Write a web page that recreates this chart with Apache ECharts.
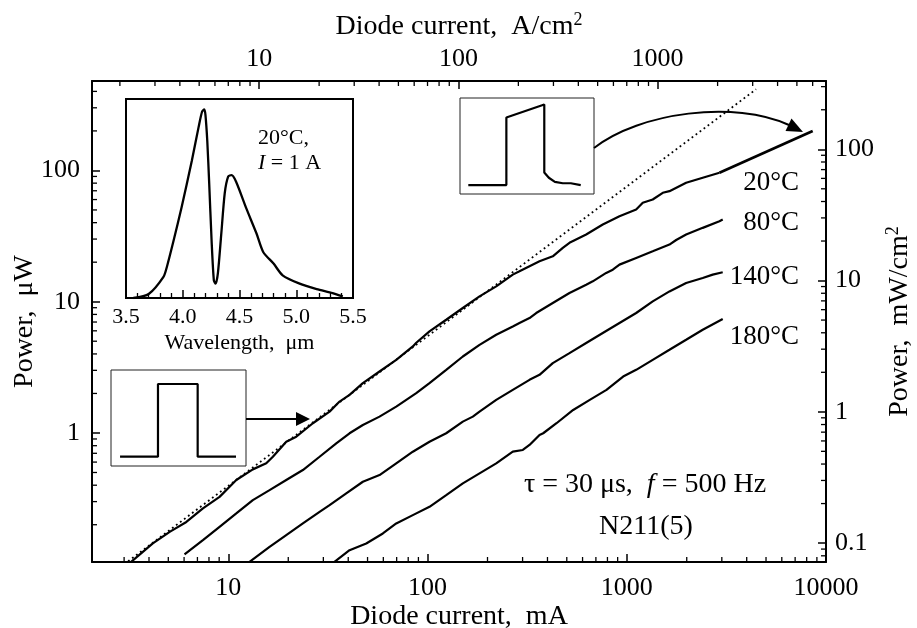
<!DOCTYPE html>
<html>
<head>
<meta charset="utf-8">
<script src="https://cdn.jsdelivr.net/npm/echarts@6/dist/echarts.min.js"></script>
<style>
html,body{margin:0;padding:0;background:#fff;}
#chart{width:917px;height:628px;}
</style>
</head>
<body>
<div id="chart"></div>
<script>
// ---------------- data ----------------
const currentT20 = [3.20,4.18,5.08,6.16,7.46,9.04,10.97,13.28,15.51,16.74,19.54,21.94,26.58,32.24,36.18,40.61,47.36,57.42,69.66,84.38,87.8,102.3,124.1,150.4,182.4,221.2,267.9,289.4,325,364.8,425.3,477.5,515.8,625.6,757.9,919.2,1115,1203,1350,1516,1638,1986,2406,2918];
const powerT20   = [0.102,0.144,0.1765,0.210,0.266,0.326,0.438,0.528,0.587,0.659,0.858,0.937,1.186,1.454,1.734,1.95,2.395,2.938,3.607,4.560,4.864,5.936,7.288,8.953,10.98,13.08,16.08,17.04,18.62,20.30,22.17,25.70,28.07,32.47,38.70,44.77,50.38,56.65,60.04,67.54,69.5,80.58,88.0,96.0];
const currentT20ext = [2918, 8577];
const powerT20ext   = [96.0, 199.5];

const currentT80 = [6.03,7.46,9.04,10.97,13.28,16.11,19.54,23.68,28.72,34.83,40.61,47.36,57.42,69.66,87.8,102.3,124.1,150.4,182.4,221.2,267.9,289.4,325,351.1,425.3,515.8,625.6,675.3,788.4,850.9,919.2,1115,1350,1638,1770,1986,2406,2918,3031];
const powerT80   = [0.119,0.1525,0.1927,0.2438,0.308,0.367,0.438,0.522,0.659,0.834,0.995,1.151,1.332,1.588,2.009,2.395,3.027,3.825,4.693,5.597,6.478,6.878,7.508,8.20,9.77,11.65,13.48,14.29,16.56,17.54,19.16,21.56,24.21,27.23,29.5,32.47,36.52,41.02,42.27];

const currentT140 = [12.54,16.11,19.54,23.68,28.72,32.24,39.09,47.36,57.42,69.66,84.38,102.3,124.1,150.4,168.8,182.4,221.2,267.9,325,364.8,425.3,515.8,625.6,757.9,919.2,1115,1350,1638,1986,2406,2701,3031];
const powerT140   = [0.102,0.1355,0.1665,0.2045,0.2508,0.282,0.3465,0.4249,0.478,0.587,0.720,0.858,0.995,1.220,1.332,1.454,1.786,2.129,2.540,2.773,3.404,4.058,4.84,5.77,6.878,8.20,10.05,11.98,13.89,15.17,16.08,16.75];

const currentT180 = [33.49,40.61,49.25,59.68,69.66,84.38,102.3,124.1,150.4,182.4,221.2,267.9,300.8,325,364.8,380.7,444,538.4,652.2,791.1,959,1115,1350,1638,1986,2406,3031];
const powerT180   = [0.102,0.128,0.144,0.1715,0.2045,0.2366,0.2738,0.3363,0.413,0.4925,0.587,0.720,0.742,0.810,0.965,0.995,1.186,1.497,1.786,2.129,2.69,3.027,3.607,4.30,5.129,6.114,7.38];

const currentFit = [3.0, 4459];
const powerFit   = [0.1, 415];

const wavelength = [3.565,3.70,3.83,3.86,3.92,3.99,4.08,4.14,4.17,4.19,4.20,4.216,4.233,4.254,4.274,4.29,4.31,4.34,4.37,4.40,4.43,4.47,4.56,4.65,4.71,4.80,4.88,5.03,5.18,5.32,5.41];
const intensity  = [0,0.02,0.106,0.156,0.29,0.456,0.69,0.86,0.936,0.948,0.92,0.79,0.577,0.29,0.089,0.072,0.126,0.326,0.527,0.61,0.617,0.584,0.45,0.324,0.23,0.173,0.114,0.072,0.045,0.025,0.008];

const pulse1T = [0.067,0.348,0.348,0.642,0.642,0.926];
const pulse1V = [0.097,0.097,0.854,0.854,0.097,0.097];
const pulse2T = [0.062,0.346,0.346,0.629,0.629,0.663,0.708,0.767,0.827,0.901];
const pulse2V = [0.093,0.093,0.797,0.932,0.224,0.169,0.127,0.112,0.112,0.093];

// axis ticks
const majorMA    = [10,100,1000,10000];
const majorAcm2  = [10,100,1000];
const majorUW    = [1,10,100];
const majorMWcm2 = [0.1,1,10,100];
const minorMA    = [3,4,5,6,7,8,9,20,30,40,50,60,70,80,90,200,300,400,500,600,700,800,900,2000,3000,4000,5000,6000,7000,8000,9000];
const minorAcm2  = [2,3,4,5,6,7,8,9,20,30,40,50,60,70,80,90,200,300,400,500,600,700,800,900,2000,3000,4000,5000,6000];
const minorUW    = [0.2,0.3,0.4,0.5,0.6,0.7,0.8,0.9,2,3,4,5,6,7,8,9,20,30,40,50,60,70,80,90,200,300,400];
const minorMWcm2 = [0.08,0.09,0.2,0.3,0.4,0.5,0.6,0.7,0.8,0.9,2,3,4,5,6,7,8,9,20,30,40,50,60,70,80,90,200,300];
const wavelengthTicks = ['3.5','4.0','4.5','5.0','5.5'];

// axis ranges
const xMinMA = 2.07, xMaxMA = 10000;
const yMinUW = 0.104, yMaxUW = 480;
const areaCurrent = 0.7;   // mA -> A/cm^2
const areaPower = 0.69;    // uW -> mW/cm^2

// ---------------- chart ----------------
const FF = '"Liberation Serif", "Times New Roman", serif';
const chart = echarts.init(document.getElementById('chart'), null, {renderer: 'canvas'});

function zip(a, b) { return a.map((v, i) => [v, b[i]]); }
function labelFrom(list) {
  return function (v) {
    for (const t of list) { if (Math.abs(v - t) / t < 1e-6) return String(t); }
    return '';
  };
}
const tickTxt = {color: '#000', fontFamily: FF, fontSize: 26};
const nameTxt = {color: '#000', fontFamily: FF, fontSize: 28};
const supRich = {s: {fontSize: 18, fontFamily: FF, color: '#000', verticalAlign: 'top', lineHeight: 32}};
const axLine = {show: true, lineStyle: {color: '#000', width: 2}};
const majTick = {show: true, inside: true, length: 8, lineStyle: {color: '#000', width: 1.5}};

function tickSeries(xi, yi, pts, dx, dy) {
  return {
    type: 'custom', xAxisIndex: xi, yAxisIndex: yi, silent: true, clip: false, z: 6,
    encode: {x: 0, y: 1},
    data: pts,
    renderItem: function (params, api) {
      const p = api.coord([api.value(0), api.value(1)]);
      return {type: 'line', shape: {x1: p[0], y1: p[1], x2: p[0] + dx, y2: p[1] + dy},
              style: {stroke: '#000', lineWidth: 1.3}};
    }
  };
}
function curve(name, xs, ys, w) {
  return {type: 'line', name: name, xAxisIndex: 0, yAxisIndex: 0, data: zip(xs, ys),
          showSymbol: false, symbol: 'none', lineStyle: {color: '#000', width: w || 2.2}, z: 3};
}
function label(x, y, text, size, align, rich) {
  const st = {text: text, fill: '#000', font: size + 'px ' + FF, align: align, verticalAlign: 'middle'};
  if (rich) st.rich = rich;
  return {type: 'text', x: x, y: y, style: st, z: 10};
}
const gridBase = {containLabel: false, outerBoundsMode: 'none'};

const option = {
  backgroundColor: '#fff',
  animation: false,
  grid: [
    Object.assign({left: 92, top: 81, width: 734, height: 481}, gridBase),
    Object.assign({left: 126, top: 99, width: 227, height: 199, show: true, borderColor: '#000', borderWidth: 2, backgroundColor: '#fff'}, gridBase),
    Object.assign({left: 111, top: 370, width: 135, height: 96, show: true, borderColor: '#222', borderWidth: 1, backgroundColor: '#fff'}, gridBase),
    Object.assign({left: 460, top: 98, width: 134, height: 96, show: true, borderColor: '#222', borderWidth: 1, backgroundColor: '#fff'}, gridBase)
  ],
  xAxis: [
    {type: 'log', gridIndex: 0, position: 'bottom', min: xMinMA, max: xMaxMA,
     axisLine: axLine, axisTick: majTick, splitLine: {show: false},
     axisLabel: Object.assign({margin: 13, formatter: labelFrom(majorMA)}, tickTxt),
     name: 'Diode current,  mA', nameLocation: 'middle', nameGap: 41, nameMoveOverlap: false, nameTextStyle: nameTxt},
    {type: 'log', gridIndex: 0, position: 'top', min: xMinMA * areaCurrent, max: xMaxMA * areaCurrent,
     axisLine: axLine, axisTick: majTick, splitLine: {show: false},
     axisLabel: Object.assign({margin: 9, formatter: labelFrom(majorAcm2)}, tickTxt),
     name: 'Diode current,  A/cm{s|2}', nameLocation: 'middle', nameGap: 38, nameMoveOverlap: false,
     nameTextStyle: Object.assign({lineHeight: 32, rich: supRich}, nameTxt)},
    {type: 'value', gridIndex: 1, min: 3.5, max: 5.5, interval: 0.5,
     axisLine: {show: true, onZero: false, lineStyle: {color: '#000', width: 2}},
     axisTick: {show: true, inside: true, length: 8, lineStyle: {color: '#000', width: 1.5}},
     minorTick: {show: true, splitNumber: 5, length: 5, lineStyle: {color: '#000', width: 1.3}},
     splitLine: {show: false},
     axisLabel: {color: '#000', fontFamily: FF, fontSize: 22, margin: 8,
                 formatter: function (v) { const s = v.toFixed(1); return wavelengthTicks.indexOf(s) >= 0 ? s : ''; }},
     name: 'Wavelength,  μm', nameLocation: 'middle', nameGap: 34,
     nameTextStyle: {color: '#000', fontFamily: FF, fontSize: 22}},
    {type: 'value', gridIndex: 2, min: 0, max: 1, show: false},
    {type: 'value', gridIndex: 3, min: 0, max: 1, show: false}
  ],
  yAxis: [
    {type: 'log', gridIndex: 0, position: 'left', min: yMinUW, max: yMaxUW,
     axisLine: axLine, axisTick: majTick, splitLine: {show: false},
     axisLabel: Object.assign({margin: 12, formatter: labelFrom(majorUW)}, tickTxt),
     name: 'Power,  μW', nameLocation: 'middle', nameGap: 53, nameRotate: 90, nameMoveOverlap: false, nameTextStyle: nameTxt},
    {type: 'log', gridIndex: 0, position: 'right', min: yMinUW * areaPower, max: yMaxUW * areaPower,
     axisLine: axLine, axisTick: majTick, splitLine: {show: false},
     axisLabel: Object.assign({margin: 9, formatter: labelFrom(majorMWcm2)}, tickTxt),
     name: 'Power,  mW/cm{s|2}', nameLocation: 'middle', nameGap: 58, nameRotate: 90, nameMoveOverlap: false,
     nameTextStyle: Object.assign({lineHeight: 32, rich: supRich}, nameTxt)},
    {type: 'value', gridIndex: 1, min: 0, max: 1, show: false},
    {type: 'value', gridIndex: 2, min: 0, max: 1, show: false},
    {type: 'value', gridIndex: 3, min: 0, max: 1, show: false}
  ],
  series: [
    curve('20°C', currentT20, powerT20),
    curve('20°C extrapolated', currentT20ext, powerT20ext, 2.7),
    curve('80°C', currentT80, powerT80),
    curve('140°C', currentT140, powerT140),
    curve('180°C', currentT180, powerT180),
    {type: 'line', name: 'fit', xAxisIndex: 0, yAxisIndex: 0, data: zip(currentFit, powerFit),
     showSymbol: false, symbol: 'none', lineStyle: {color: '#000', width: 1.8, type: [1.8, 3.2]}, z: 2},
    {type: 'line', name: 'spectrum', xAxisIndex: 2, yAxisIndex: 2, data: zip(wavelength, intensity),
     showSymbol: false, symbol: 'none', smooth: 0.25, lineStyle: {color: '#000', width: 2.3}, z: 5},
    {type: 'line', name: 'pulse in', xAxisIndex: 3, yAxisIndex: 3, data: zip(pulse1T, pulse1V),
     showSymbol: false, symbol: 'none', lineStyle: {color: '#000', width: 2.2}},
    {type: 'line', name: 'pulse out', xAxisIndex: 4, yAxisIndex: 4, data: zip(pulse2T, pulse2V),
     showSymbol: false, symbol: 'none', lineStyle: {color: '#000', width: 2.2}},
    tickSeries(0, 0, minorMA.map(v => [v, yMinUW]), 0, -5),
    tickSeries(1, 0, minorAcm2.map(v => [v, yMaxUW]), 0, 5),
    tickSeries(0, 0, minorUW.map(v => [xMinMA, v]), 5, 0),
    tickSeries(0, 1, minorMWcm2.map(v => [xMaxMA, v]), -5, 0)
  ],
  graphic: [
    {type: 'line', shape: {x1: 246, y1: 419, x2: 298, y2: 419}, style: {stroke: '#000', lineWidth: 2}, z: 10},
    {type: 'polygon', shape: {points: [[310, 419], [296, 412], [296, 426]]}, style: {fill: '#000'}, z: 10},
    {type: 'bezierCurve', shape: {x1: 594, y1: 148, cpx1: 640, cpy1: 112, cpx2: 735, cpy2: 100, x2: 789, y2: 125},
     style: {stroke: '#000', lineWidth: 2, fill: null}, z: 10},
    {type: 'polygon', shape: {points: [[803, 132], [785.5, 131], [791.5, 118.5]]}, style: {fill: '#000'}, z: 10},
    label(799, 183, '20°C', 27, 'right'),
    label(799, 223, '80°C', 27, 'right'),
    label(799, 277, '140°C', 27, 'right'),
    label(799, 337, '180°C', 27, 'right'),
    label(645, 485, 'τ = 30 μs,  {i|f} = 500 Hz', 28, 'center',
          {i: {fontStyle: 'italic', fontSize: 28, fontFamily: FF, fill: '#000'}}),
    label(646, 527, 'N211(5)', 28, 'center'),
    label(258, 138, '20°C,', 22, 'left'),
    label(258, 163, '{i|I} = 1 A', 22, 'left',
          {i: {fontStyle: 'italic', fontSize: 22, fontFamily: FF, fill: '#000'}})
  ]
};
chart.setOption(option);
</script>
</body>
</html>
